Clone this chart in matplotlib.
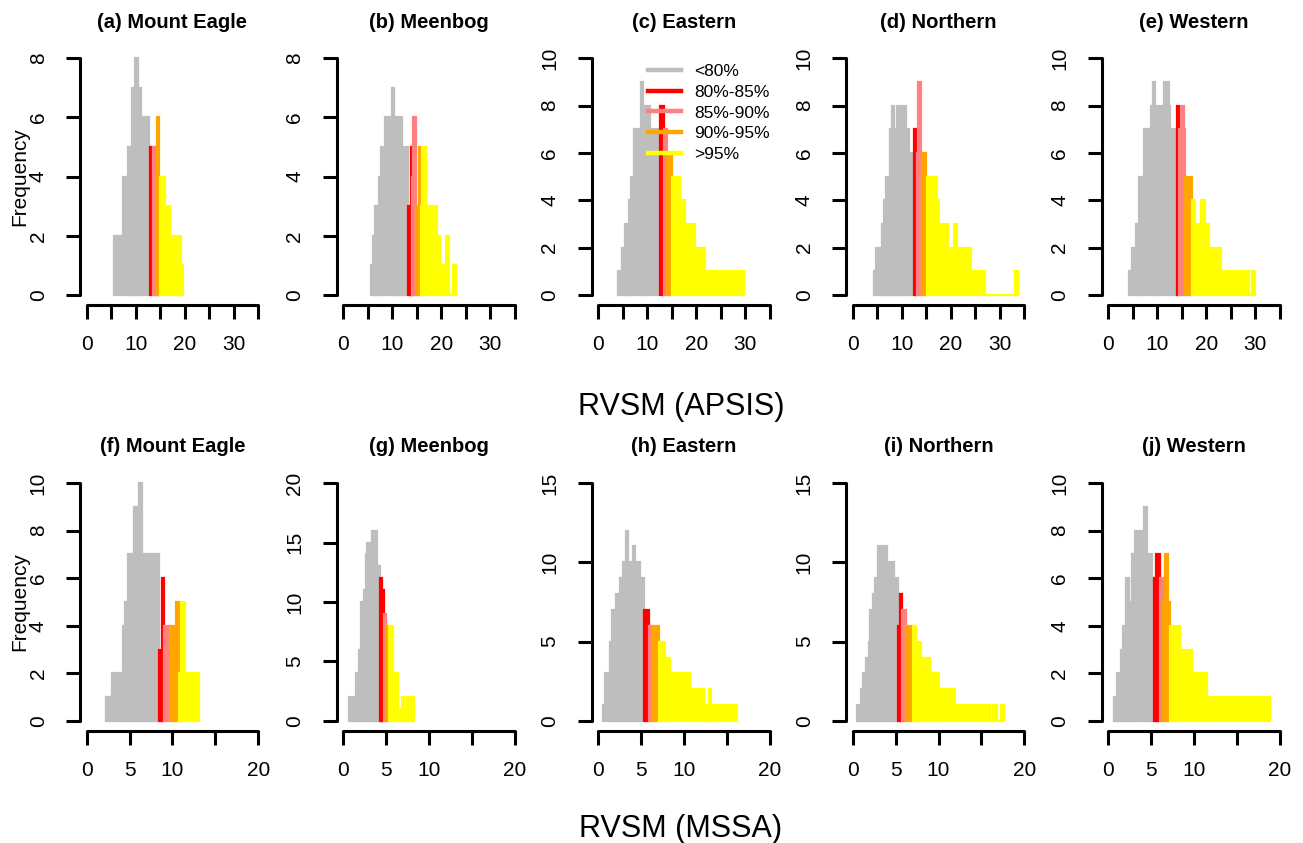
import numpy as np
import matplotlib
matplotlib.use("Agg")
import matplotlib.pyplot as plt
from matplotlib.lines import Line2D

plt.rcParams['font.family'] = ['Liberation Sans', 'DejaVu Sans']

W, H = 1303, 843

# colours of the percentile bands
band_colors = ['#BEBEBE', '#FF0000', '#FF8080', '#FFA500', '#FFFF00']
band_labels = ['<80%', '80%-85%', '85%-90%', '90%-95%', '>95%']

# ---- top row: RVSM (APSIS) ----
a_edges = [5.6, 7.5, 8.5, 9.2, 9.9, 10.5, 11.1, 12.7, 13.6, 14.1, 14.4, 14.7, 15.0,
           16.0, 16.9, 18.7, 19.0, 19.3, 19.7]
a_freq = [2, 4, 5, 7, 8, 7, 6, 5, 5, 4, 6, 4, 4, 3, 2, 1, 2, 1]
a_cuts = [12.9, 13.6, 14.1, 15.0]

b_edges = [5.6, 6.05, 6.5, 7.2, 7.7, 8.4, 10.0, 10.4, 11.0, 11.3, 12.0, 13.2, 13.7,
           14.1, 14.3, 14.8, 15.4, 15.9, 16.1, 16.8, 19.2, 19.8, 20.6, 20.9, 21.6,
           22.3, 23.0]
b_freq = [1, 2, 3, 4, 5, 6, 7, 6, 5, 6, 5, 3, 5, 4, 6, 3, 5, 3, 5, 3, 2, 1, 0, 2, 0, 1]
b_cuts = [13.2, 14.1, 14.8, 15.9]

c_edges = [3.95, 4.8, 5.5, 6.2, 6.6, 7.2, 8.7, 9.2, 10.6, 12.6, 13.3, 14.1, 15.0,
           16.7, 17.7, 19.8, 21.8, 29.8]
c_freq = [1, 2, 3, 4, 5, 7, 9, 8, 7, 8, 7, 6, 5, 4, 3, 2, 1]
c_cuts = [12.6, 13.3, 14.1, 15.0]

d_edges = [4.25, 4.8, 6.0, 6.3, 6.85, 7.5, 8.0, 8.5, 9.05, 9.9, 10.3, 10.8, 11.45,
           12.5, 13.2, 13.3, 13.9, 14.2, 14.9, 15.2, 17.15, 17.6, 19.5, 20.7, 21.3,
           24.15, 27.0, 33.1, 33.8]
d_freq = [1, 2, 3, 4, 5, 7, 8, 7, 8, 7, 8, 7, 6, 7, 6, 9, 6, 6, 5, 5, 4, 3, 2, 3, 2,
          1, 0, 1]
d_cuts = [12.5, 13.2, 14.2, 15.2]

e_edges = [4.3, 4.8, 5.7, 6.35, 7.3, 8.7, 9.1, 9.6, 11.3, 12.3, 12.6, 13.9, 14.5,
           14.9, 15.35, 15.7, 17.1, 17.75, 18.8, 19.8, 20.5, 23.0, 27.3, 27.6, 28.65,
           29.35, 30.0]
e_freq = [1, 2, 3, 5, 7, 8, 9, 8, 9, 8, 7, 8, 7, 8, 7, 5, 4, 3, 4, 3, 2, 1, 0, 1, 0, 1]
e_cuts = [13.9, 14.5, 15.7, 17.1]

# ---- bottom row: RVSM (MSSA) ----
f_edges = [2.3, 3.0, 4.2, 4.45, 4.85, 5.55, 5.9, 6.15, 6.45, 7.0, 7.2, 7.6, 7.75,
           8.4, 8.75, 9.0, 9.7, 10.4, 10.8, 11.05, 11.45, 12.4, 12.6, 13.1]
f_freq = [1, 2, 4, 5, 7, 9, 8, 10, 7, 6, 7, 6, 7, 3, 6, 4, 4, 5, 2, 5, 2, 1, 2]
f_cuts = [8.4, 9.0, 9.7, 10.8]

g_edges = [0.65, 1.45, 1.85, 2.1, 2.35, 2.6, 2.8, 3.3, 3.9, 4.3, 4.55, 4.75, 5.0,
           5.35, 5.75, 6.4, 6.8, 7.1, 7.4, 8.2]
g_freq = [2, 4, 6, 10, 11, 14, 15, 16, 13, 12, 11, 9, 8, 8, 4, 1, 2, 1, 2]
g_cuts = [4.3, 4.75, 5.0, 5.35]

h_edges = [0.5, 0.8, 1.3, 1.55, 2.05, 2.55, 2.9, 3.25, 3.5, 4.0, 4.3, 4.9, 5.35,
           5.85, 6.25, 7.1, 7.8, 8.3, 10.7, 12.35, 12.85, 13.15, 16.2]
h_freq = [1, 3, 5, 7, 8, 9, 10, 12, 10, 11, 10, 9, 7, 6, 6, 5, 4, 3, 2, 1, 2, 1]
h_cuts = [5.35, 5.85, 6.25, 7.1]

i_edges = [0.45, 0.95, 1.25, 1.55, 1.85, 2.05, 2.35, 2.6, 2.9, 4.0, 4.85, 5.25, 5.55,
           5.75, 6.15, 7.05, 7.4, 7.9, 9.0, 10.05, 11.9, 16.0, 16.3, 16.8, 17.25, 17.65]
i_freq = [1, 2, 3, 4, 5, 7, 8, 9, 11, 10, 9, 6, 8, 7, 6, 6, 5, 4, 3, 2, 1, 0, 1, 0, 1]
i_cuts = [5.25, 5.75, 6.15, 7.05]

j_edges = [0.6, 1.0, 1.45, 1.75, 2.05, 2.35, 2.75, 3.1, 4.1, 4.5, 5.05, 5.35, 5.55,
           6.05, 6.4, 6.65, 6.9, 7.2, 8.3, 9.75, 11.5, 17.75, 17.95, 18.85]
j_freq = [1, 2, 3, 4, 6, 5, 7, 8, 9, 7, 6, 6, 7, 6, 5, 7, 5, 4, 3, 2, 1, 0, 1]
j_cuts = [5.35, 6.05, 6.4, 7.2]

top_titles = ['(a) Mount Eagle', '(b) Meenbog', '(c) Eastern', '(d) Northern', '(e) Western']
bot_titles = ['(f) Mount Eagle', '(g) Meenbog', '(h) Eastern', '(i) Northern', '(j) Western']

top_data = [(a_edges, a_freq, a_cuts, 8, 2), (b_edges, b_freq, b_cuts, 8, 2),
            (c_edges, c_freq, c_cuts, 10, 2), (d_edges, d_freq, d_cuts, 10, 2),
            (e_edges, e_freq, e_cuts, 10, 2)]
bot_data = [(f_edges, f_freq, f_cuts, 10, 2), (g_edges, g_freq, g_cuts, 20, 5),
            (h_edges, h_freq, h_cuts, 15, 5), (i_edges, i_freq, i_cuts, 15, 5),
            (j_edges, j_freq, j_cuts, 10, 2)]

top_xticks = [0, 5, 10, 15, 20, 25, 30, 35]
top_xlabels = ['0', '', '10', '', '20', '', '30', '']
bot_xticks = [0, 5, 10, 15, 20]
bot_xlabels = ['0', '5', '10', '', '20']

fig = plt.figure(figsize=(W / 100, H / 100), dpi=100)

col_left = [79.8, 336.5, 591.5, 845.9, 1101.5]
ax_w = 185.3
rows = [(48.8, 304.5), (473.5, 730.5)]


def draw_panel(ax, edges, freq, cuts, ymax, ystep, xmax):
    edges = np.asarray(edges, float)
    freq = np.asarray(freq)
    inner = [c for c in cuts if edges[0] < c < edges[-1]]
    pts = np.unique(np.concatenate([edges, inner]))
    left, right = pts[:-1], pts[1:]
    mid = (left + right) / 2
    hgt = freq[np.searchsorted(edges, mid) - 1]
    band = np.searchsorted(cuts, mid)
    cols = [band_colors[k] for k in band]
    ax.bar(left, hgt, width=right - left, align='edge', color=cols,
           edgecolor=cols, linewidth=1.6, zorder=2)

    pad = 0.04
    ax.set_xlim(-pad * xmax, xmax * (1 + pad))
    ax.set_ylim(-pad * ymax, ymax * (1 + pad))
    for s in ['top', 'right']:
        ax.spines[s].set_visible(False)
    for s in ['left', 'bottom']:
        ax.spines[s].set_linewidth(2.2)
        ax.spines[s].set_capstyle('round')
    ax.spines['left'].set_bounds(0, ymax)
    ax.spines['bottom'].set_bounds(0, xmax)
    ax.tick_params(length=10, width=2.2, labelsize=15, direction='out')
    yt = np.arange(0, ymax + 0.1, ystep)
    ax.set_yticks(yt)
    ax.set_yticklabels([])
    for v in yt:
        ax.annotate('%d' % v, xy=(0, v), xycoords=('axes fraction', 'data'),
                    xytext=(-30, 0), textcoords='offset points', rotation=90,
                    ha='center', va='center', fontsize=15)


for r, (titles, data, xt, xl, xmax) in enumerate(
        [(top_titles, top_data, top_xticks, top_xlabels, 35),
         (bot_titles, bot_data, bot_xticks, bot_xlabels, 20)]):
    y_top, y_bot = rows[r]
    for c in range(5):
        ax = fig.add_axes([col_left[c] / W, 1 - y_bot / H, ax_w / W, (y_bot - y_top) / H])
        edges, freq, cuts, ymax, ystep = data[c]
        draw_panel(ax, edges, freq, cuts, ymax, ystep, xmax)
        ax.set_xticks(xt)
        ax.set_xticklabels(xl)
        ax.tick_params(axis='x', pad=12)
        ax.text(0.5, 1 + 26.5 / (y_bot - y_top), titles[c], transform=ax.transAxes,
                ha='center', va='center', fontsize=14.5, fontweight='bold')
        if r == 0 and c == 2:
            handles = [Line2D([], [], color=col, lw=3.2) for col in band_colors]
            ax.legend(handles, band_labels, loc='upper left', frameon=False,
                      bbox_to_anchor=((648 - col_left[c]) / ax_w, (y_bot - 64) / (y_bot - y_top)),
                      fontsize=12.5, handlelength=1.9, handletextpad=0.75,
                      labelspacing=0.32, borderaxespad=0, borderpad=0)
        if c == 0:
            fig.text(20 / W, 1 - (y_top + y_bot) / 2 / H, 'Frequency', rotation=90,
                     ha='center', va='center', fontsize=15)

fig.text(681 / W, 1 - 407 / H, 'RVSM (APSIS)', ha='center', va='center', fontsize=22)
fig.text(681 / W, 1 - 829 / H, 'RVSM (MSSA)', ha='center', va='center', fontsize=22)

fig.savefig('out.png', dpi=100)
